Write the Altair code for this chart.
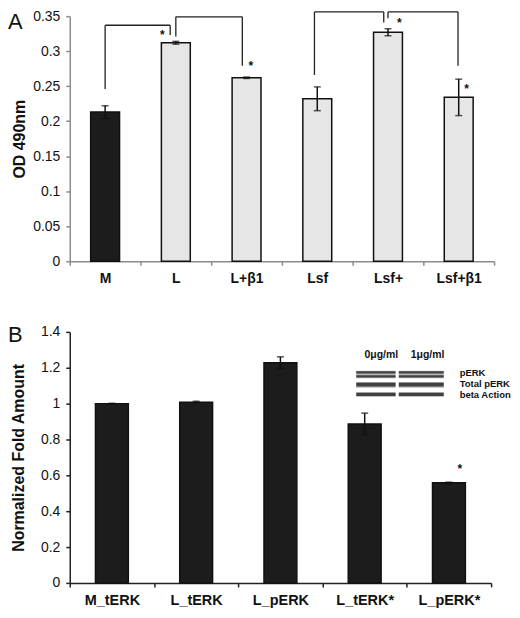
import altair as alt
import pandas as pd

FONT = "Liberation Sans"
INK = "#111111"

# ---------------- Panel A data ----------------
a_groups = ["M", "L", "L+β1", "Lsf", "Lsf+", "Lsf+β1"]
a_values = [0.213, 0.312, 0.262, 0.232, 0.327, 0.234]
a_errors = [0.009, 0.002, 0.001, 0.017, 0.005, 0.026]

# significance brackets, x in group-index units (0 = left edge of first group)
br_x_start = [0.5, 1.5, 3.46, 4.5]
br_x_end = [1.42, 2.44, 4.44, 5.49]
br_y_start = [0.246, 0.321, 0.266, 0.347]
br_y_top = [0.337, 0.349, 0.356, 0.356]
br_y_end = [0.323, 0.279, 0.341, 0.279]

ast_a_x = [1.31, 2.56, 4.66, 5.61]
ast_a_y = [0.323, 0.279, 0.340, 0.246]

# ---------------- Panel B data ----------------
b_groups = ["M_tERK", "L_tERK", "L_pERK", "L_tERK*", "L_pERK*"]
b_values = [1.0, 1.008, 1.228, 0.887, 0.558]
b_errors = [0.002, 0.005, 0.033, 0.060, 0.004]

ast_b_x = [4.63]
ast_b_y = [0.635]

# inset (western blot), x in group-index units of panel B
dose_labels = ["0μg/ml", "1μg/ml"]
dose_x = [3.698, 4.246]
dose_y = [1.27, 1.27]
lane_x0 = [3.40, 3.905]
lane_x1 = [3.866, 4.438]
row_lo = [1.141, 1.089, 1.038]
row_hi = [1.184, 1.121, 1.064]
core_lo = [1.168, 1.146, 1.095, 1.042]
core_hi = [1.180, 1.158, 1.116, 1.060]
row_labels = ["pERK", "Total pERK", "beta Action"]
row_label_x = [4.627, 4.627, 4.627]
row_label_y = [1.169, 1.108, 1.048]


def error_frame(groups, values, errors):
    df = pd.DataFrame({"group": groups, "value": values, "err": errors})
    df["lo"] = df["value"] - df["err"]
    df["hi"] = df["value"] + df["err"]
    return df


def letter(text, ypix):
    return alt.Chart(pd.DataFrame({"t": [text]})).mark_text(
        text=text, font=FONT, fontSize=22, align="left", baseline="alphabetic", color=INK
    ).encode(x=alt.value(-62), y=alt.value(ypix))


def make_panel(df, groups, ydomain, yvalues, yfmt, ytitle, axis_color, xlabel_size,
               xlabel_pad, title_pad, bar_size, fill, overlay_layers, qdomain, width, height, letter_layer):
    xaxis = alt.Axis(labelAngle=0, labelFontWeight="bold", labelFontSize=xlabel_size, tickBand="extent",
                     domainColor=axis_color, tickColor=axis_color, domainWidth=1.5, tickWidth=1.5,
                     tickSize=4, labelPadding=xlabel_pad, labelColor=INK, title=None)
    yaxis = alt.Axis(values=yvalues, format=yfmt, title=ytitle,
                     domainColor=axis_color, tickColor=axis_color, domainWidth=1.5, tickWidth=1.5,
                     tickSize=4, labelPadding=6, titlePadding=title_pad, labelColor=INK)
    yscale = alt.Scale(domain=ydomain, nice=False)
    xscale = alt.Scale(paddingInner=0, paddingOuter=0)

    def X():
        return alt.X("group:N", sort=groups, scale=xscale, axis=xaxis)

    bars = alt.Chart(df).mark_bar(size=bar_size, stroke=INK, strokeWidth=1.5).encode(
        x=X(), y=alt.Y("value:Q", scale=yscale, axis=yaxis), fill=fill
    )
    err = alt.Chart(df).mark_rule(color=INK, strokeWidth=1.5).encode(
        x=X(), y=alt.Y("lo:Q", scale=yscale, axis=yaxis), y2="hi:Q"
    )
    caps = alt.Chart(df).transform_fold(["lo", "hi"], as_=["k", "v"]).mark_tick(
        size=7, thickness=1.5, color=INK
    ).encode(x=X(), y=alt.Y("v:Q", scale=yscale, axis=yaxis))

    base = alt.layer(bars, err, caps, letter_layer)
    qx = alt.X("x:Q", scale=alt.Scale(domain=qdomain, nice=False, zero=False), axis=None)
    over = alt.layer(*[lay(qx, yscale, yaxis) for lay in overlay_layers])
    return alt.layer(base, over).resolve_scale(x="independent").properties(width=width, height=height)


# ---------------- Panel A ----------------
dfA = error_frame(a_groups, a_values, a_errors)
segs = []
for xs, xe, ys, yt, ye in zip(br_x_start, br_x_end, br_y_start, br_y_top, br_y_end):
    segs.append(dict(x=xs, x2=xs, y=ys, y2=yt))
    segs.append(dict(x=xs, x2=xe, y=yt, y2=yt))
    segs.append(dict(x=xe, x2=xe, y=yt, y2=ye))
dfSeg = pd.DataFrame(segs)
dfAstA = pd.DataFrame({"x": ast_a_x, "y": ast_a_y})


def brackets(qx, ys, ya):
    return alt.Chart(dfSeg).mark_rule(color="#222222", strokeWidth=1.3).encode(
        x=qx, x2="x2:Q", y=alt.Y("y:Q", scale=ys, axis=ya), y2="y2:Q"
    )


def asterisks_a(qx, ys, ya):
    return alt.Chart(dfAstA).mark_text(
        text="*", font=FONT, fontSize=12, fontWeight="bold", baseline="middle", color=INK
    ).encode(x=qx, y=alt.Y("y:Q", scale=ys, axis=ya))


panelA = make_panel(
    dfA, a_groups, [0, 0.35], [0, 0.05, 0.1, 0.15, 0.2, 0.25, 0.3, 0.35], ".2~f", "OD 490nm",
    "#8c8c8c", 14, 6, 5, 29,
    alt.condition(alt.datum.group == "M", alt.value("#1c1c1c"), alt.value("#e6e6e6")),
    [brackets, asterisks_a], [0, 6], 426, 246, letter("A", 13),
)

# ---------------- Panel B ----------------
dfB = error_frame(b_groups, b_values, b_errors)
dfAstB = pd.DataFrame({"x": ast_b_x, "y": ast_b_y})
rows = []
for lo, hi in zip(row_lo, row_hi):
    for x0, x1 in zip(lane_x0, lane_x1):
        rows.append(dict(x=x0, x2=x1, y=lo, y2=hi))
cores = []
for lo, hi in zip(core_lo, core_hi):
    for x0, x1 in zip(lane_x0, lane_x1):
        cores.append(dict(x=x0, x2=x1, y=lo, y2=hi))
dfRows = pd.DataFrame(rows)
dfCores = pd.DataFrame(cores)
dfDose = pd.DataFrame({"t": dose_labels, "x": dose_x, "y": dose_y})
dfRowLbl = pd.DataFrame({"t": row_labels, "x": row_label_x, "y": row_label_y})


def asterisks_b(qx, ys, ya):
    return alt.Chart(dfAstB).mark_text(
        text="*", font=FONT, fontSize=12, fontWeight="bold", baseline="middle", color=INK
    ).encode(x=qx, y=alt.Y("y:Q", scale=ys, axis=ya))


def blot_halo(qx, ys, ya):
    return alt.Chart(dfRows).mark_rect(color="#a8a8a8", opacity=0.85).encode(
        x=qx, x2="x2:Q", y=alt.Y("y:Q", scale=ys, axis=ya), y2="y2:Q"
    )


def blot_core(qx, ys, ya):
    return alt.Chart(dfCores).mark_rect(color="#333333", opacity=0.9).encode(
        x=qx, x2="x2:Q", y=alt.Y("y:Q", scale=ys, axis=ya), y2="y2:Q"
    )


def dose_text(qx, ys, ya):
    return alt.Chart(dfDose).mark_text(
        font=FONT, fontSize=10.5, fontWeight="bold", baseline="middle", align="center", color=INK
    ).encode(x=qx, y=alt.Y("y:Q", scale=ys, axis=ya), text="t:N")


def row_text(qx, ys, ya):
    return alt.Chart(dfRowLbl).mark_text(
        font=FONT, fontSize=9.5, fontWeight="bold", baseline="middle", align="left", color=INK
    ).encode(x=qx, y=alt.Y("y:Q", scale=ys, axis=ya), text="t:N")


panelB = make_panel(
    dfB, b_groups, [0, 1.4], [0, 0.2, 0.4, 0.6, 0.8, 1.0, 1.2, 1.4], ".1~f", "Normalized Fold Amount",
    "#222222", 14.5, 7, 14, 33, alt.value("#1c1c1c"),
    [asterisks_b, blot_halo, blot_core, dose_text, row_text], [0, 5], 423, 252, letter("B", 10),
)

chart = alt.vconcat(panelA, panelB, spacing=39).configure(
    padding={"left": 0, "top": 0, "right": 0, "bottom": 0}, font=FONT
).configure_view(stroke=None).configure_axis(
    grid=False, labelFont=FONT, labelFontSize=14, titleFont=FONT, titleFontSize=16,
    titleFontWeight="bold", titleColor=INK
)

chart.save("out.html", embed_options={"renderer": "svg", "actions": False})
